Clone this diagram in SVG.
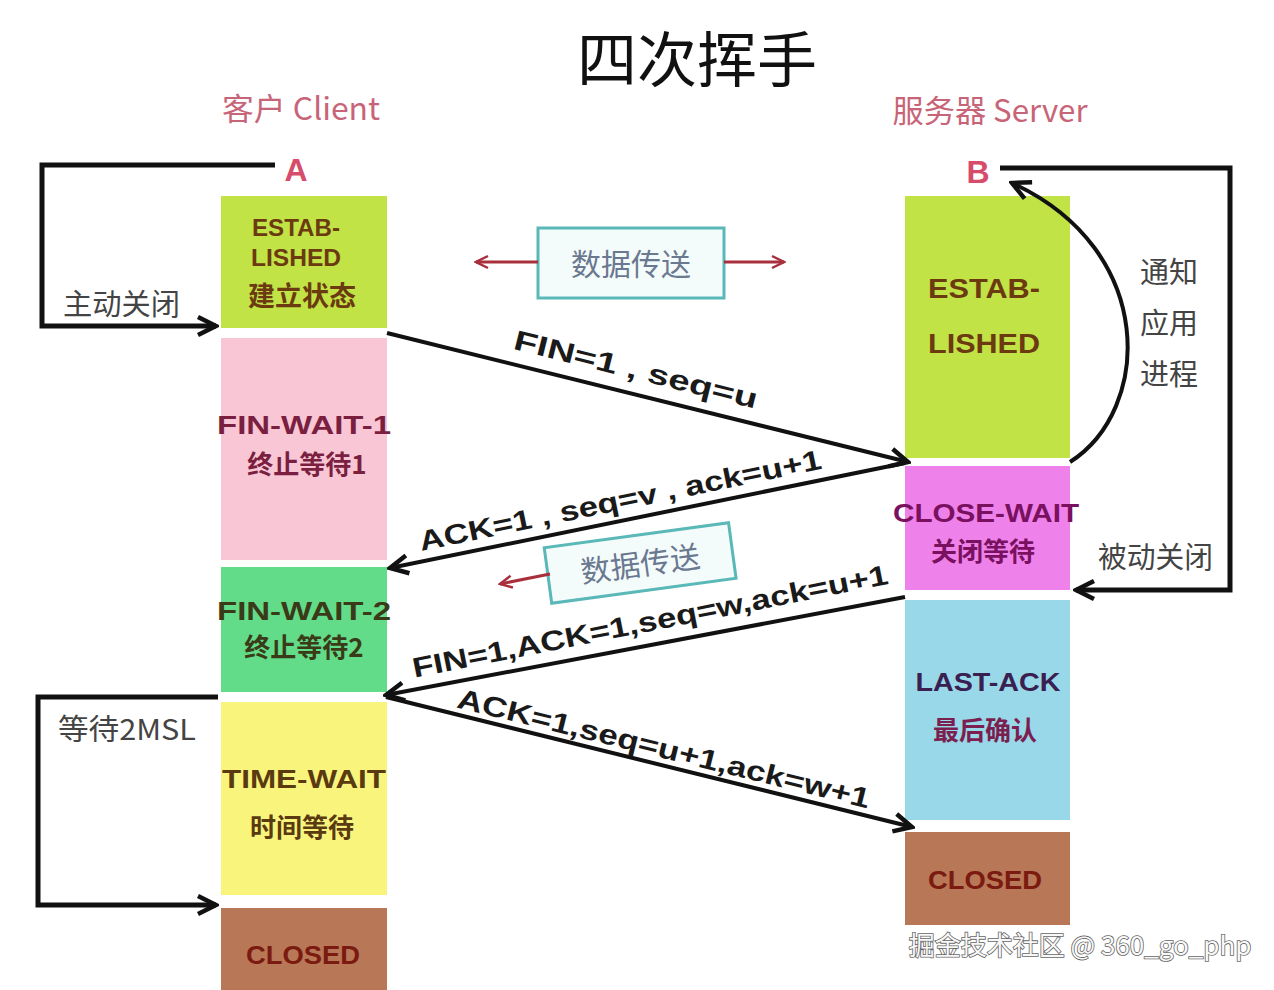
<svg xmlns="http://www.w3.org/2000/svg" width="1274" height="990" viewBox="0 0 1274 990">
<style>
.st{font-family:"Liberation Sans","Noto Sans CJK SC",sans-serif;font-weight:bold;text-anchor:middle}
.cj{font-family:"Noto Sans CJK SC",sans-serif;font-weight:bold;text-anchor:middle}
.side{font-family:"Noto Sans CJK SC",sans-serif;font-size:29px;fill:#444}
.lbl{font-family:"Liberation Sans","Noto Sans CJK SC",sans-serif;font-weight:bold;font-size:28px;fill:#1a1a1a;text-anchor:middle}
.line{stroke:#111;stroke-width:4;fill:none}
.loop{stroke:#111;stroke-width:5;fill:none}
.red{stroke:#a8303c;stroke-width:3;fill:none}
</style>
<defs>
<marker id="ah" viewBox="0 0 24 24" refX="21" refY="12" markerWidth="24" markerHeight="24" markerUnits="userSpaceOnUse" orient="auto">
<path d="M3,3 L21,12 L3,21" fill="none" stroke="#111" stroke-width="4.5"/>
</marker>
<marker id="ar" viewBox="0 0 16 16" refX="14" refY="8" markerWidth="16" markerHeight="16" markerUnits="userSpaceOnUse" orient="auto">
<path d="M2,2 L14,8 L2,14" fill="none" stroke="#a8303c" stroke-width="2.5"/>
</marker>
</defs>
<rect width="1274" height="990" fill="#fff"/>
<g id="title">
<text x="697" y="82" font-family="Noto Sans CJK SC,sans-serif" font-size="60" fill="#111" text-anchor="middle">四次挥手</text>
<text x="301" y="120" font-family="Noto Sans CJK SC,sans-serif" font-size="31" fill="#c86478" text-anchor="middle" textLength="158" lengthAdjust="spacingAndGlyphs">客户 Client</text>
<text x="990" y="122" font-family="Noto Sans CJK SC,sans-serif" font-size="31" fill="#c86478" text-anchor="middle" textLength="195" lengthAdjust="spacingAndGlyphs">服务器 Server</text>
<text x="296" y="181" font-family="Liberation Sans,sans-serif" font-weight="bold" font-size="32" fill="#d64c6a" text-anchor="middle">A</text>
<text x="978" y="183" font-family="Liberation Sans,sans-serif" font-weight="bold" font-size="32" fill="#d64c6a" text-anchor="middle">B</text>
</g>
<g id="client-established">
<rect x="221" y="196" width="166" height="132" fill="#c2e346"/>
<text class="st" x="296" y="236" font-size="23" fill="#6b3a10" textLength="88" lengthAdjust="spacingAndGlyphs">ESTAB-</text>
<text class="st" x="296" y="266" font-size="23" fill="#6b3a10" textLength="90" lengthAdjust="spacingAndGlyphs">LISHED</text>
<text class="cj" x="302" y="306" font-size="27" fill="#6b3a10">建立状态</text>
</g>
<g id="client-finwait1">
<rect x="221" y="338" width="166" height="222" fill="#f9c6d6"/>
<text class="st" x="304" y="434" font-size="25" fill="#7a1f40" textLength="174" lengthAdjust="spacingAndGlyphs">FIN-WAIT-1</text>
<text class="cj" x="307" y="474" font-size="26" fill="#7a1f40">终止等待1</text>
</g>
<g id="client-finwait2">
<rect x="221" y="567" width="166" height="125" fill="#62dc88"/>
<text class="st" x="304" y="620" font-size="25" fill="#3a3a18" textLength="174" lengthAdjust="spacingAndGlyphs">FIN-WAIT-2</text>
<text class="cj" x="304" y="657" font-size="26" fill="#3a3a18">终止等待2</text>
</g>
<g id="client-timewait">
<rect x="221" y="702" width="166" height="193" fill="#f9f57c"/>
<text class="st" x="304" y="788" font-size="25" fill="#5a3a10" textLength="164" lengthAdjust="spacingAndGlyphs">TIME-WAIT</text>
<text class="cj" x="302" y="837" font-size="26" fill="#5a3a10">时间等待</text>
</g>
<g id="client-closed">
<rect x="221" y="908" width="166" height="82" fill="#b87756"/>
<text class="st" x="303" y="964" font-size="26" fill="#7a1a10" textLength="114" lengthAdjust="spacingAndGlyphs">CLOSED</text>
</g>
<g id="server-established">
<rect x="905" y="196" width="165" height="262" fill="#c2e346"/>
<text class="st" x="984" y="298" font-size="28" fill="#6b3a10" textLength="112" lengthAdjust="spacingAndGlyphs">ESTAB-</text>
<text class="st" x="984" y="353" font-size="28" fill="#6b3a10" textLength="112" lengthAdjust="spacingAndGlyphs">LISHED</text>
</g>
<g id="server-closewait">
<rect x="905" y="466" width="165" height="124" fill="#ee82ea"/>
<text class="st" x="986" y="522" font-size="25" fill="#7a1060" textLength="186" lengthAdjust="spacingAndGlyphs">CLOSE-WAIT</text>
<text class="cj" x="983" y="561" font-size="26" fill="#7a1060">关闭等待</text>
</g>
<g id="server-lastack">
<rect x="905" y="600" width="165" height="220" fill="#98d8e8"/>
<text class="st" x="988" y="691" font-size="26" fill="#3a2050" textLength="145" lengthAdjust="spacingAndGlyphs">LAST-ACK</text>
<text class="cj" x="985" y="740" font-size="26" fill="#7a1f50">最后确认</text>
</g>
<g id="server-closed">
<rect x="905" y="832" width="165" height="93" fill="#b87756"/>
<text class="st" x="985" y="889" font-size="26" fill="#7a1a10" textLength="114" lengthAdjust="spacingAndGlyphs">CLOSED</text>
</g>
<g id="data-transfer-1">
<rect x="538" y="228" width="186" height="70" fill="#f4fbfb" stroke="#5ab8b8" stroke-width="3"/>
<text x="631" y="275" font-family="Noto Sans CJK SC,sans-serif" font-size="30" fill="#6a7890" text-anchor="middle">数据传送</text>
</g>
<g id="data-transfer-2" transform="rotate(-7.7 640 562)">
<rect x="547" y="535" width="186" height="56" fill="#f4fbfb" stroke="#5ab8b8" stroke-width="3"/>
<text x="640" y="575" font-family="Noto Sans CJK SC,sans-serif" font-size="30" fill="#6a7890" text-anchor="middle">数据传送</text>
</g>
<g id="side-labels">
<text class="side" x="63" y="315" textLength="117" lengthAdjust="spacingAndGlyphs">主动关闭</text>
<text class="side" x="58" y="740" textLength="138" lengthAdjust="spacingAndGlyphs">等待2MSL</text>
<text class="side" x="1140" y="283">通知</text>
<text class="side" x="1140" y="334">应用</text>
<text class="side" x="1140" y="385">进程</text>
<text class="side" x="1098" y="568" textLength="115" lengthAdjust="spacingAndGlyphs">被动关闭</text>
</g>
<g id="connectors">
<polyline class="loop" points="275,165 42,165 42,326 216,326" marker-end="url(#ah)"/>
<polyline class="loop" points="1000,168 1230,168 1230,590 1076,590" marker-end="url(#ah)"/>
<polyline class="loop" points="218,697 38,697 38,905 216,905" marker-end="url(#ah)"/>
<path class="line" d="M1070,462 C1152,410 1158,250 1012,183" marker-end="url(#ah)"/>
<line class="line" x1="387" y1="333" x2="908" y2="462" marker-end="url(#ah)"/>
<line class="line" x1="905" y1="463" x2="390" y2="568" marker-end="url(#ah)"/>
<line class="line" x1="905" y1="597" x2="386" y2="695" marker-end="url(#ah)"/>
<line class="line" x1="386" y1="697" x2="912" y2="827" marker-end="url(#ah)"/>
<line class="red" x1="538" y1="262" x2="476" y2="262" marker-end="url(#ar)"/>
<line class="red" x1="724" y1="262" x2="784" y2="262" marker-end="url(#ar)"/>
<line class="red" x1="550" y1="574" x2="500" y2="584" marker-end="url(#ar)"/>
<text class="lbl" transform="translate(636,369) rotate(13.9)" y="10" textLength="250" lengthAdjust="spacingAndGlyphs">FIN=1 , seq=u</text>
<text class="lbl" transform="translate(620,500) rotate(-11.6)" y="10" textLength="410" lengthAdjust="spacingAndGlyphs">ACK=1 , seq=v , ack=u+1</text>
<text class="lbl" transform="translate(650,621) rotate(-11.2)" y="10" textLength="484" lengthAdjust="spacingAndGlyphs">FIN=1,ACK=1,seq=w,ack=u+1</text>
<text class="lbl" transform="translate(664,748) rotate(13.8)" y="10" textLength="424" lengthAdjust="spacingAndGlyphs">ACK=1,seq=u+1,ack=w+1</text>
</g>
<g id="watermark">
<text x="1080" y="955" font-family="Noto Sans CJK SC,sans-serif" font-size="26" fill="#f8f8f8" stroke="#666" stroke-width="1.6" paint-order="stroke" text-anchor="middle">掘金技术社区 @ 360_go_php</text>
</g>
</svg>
